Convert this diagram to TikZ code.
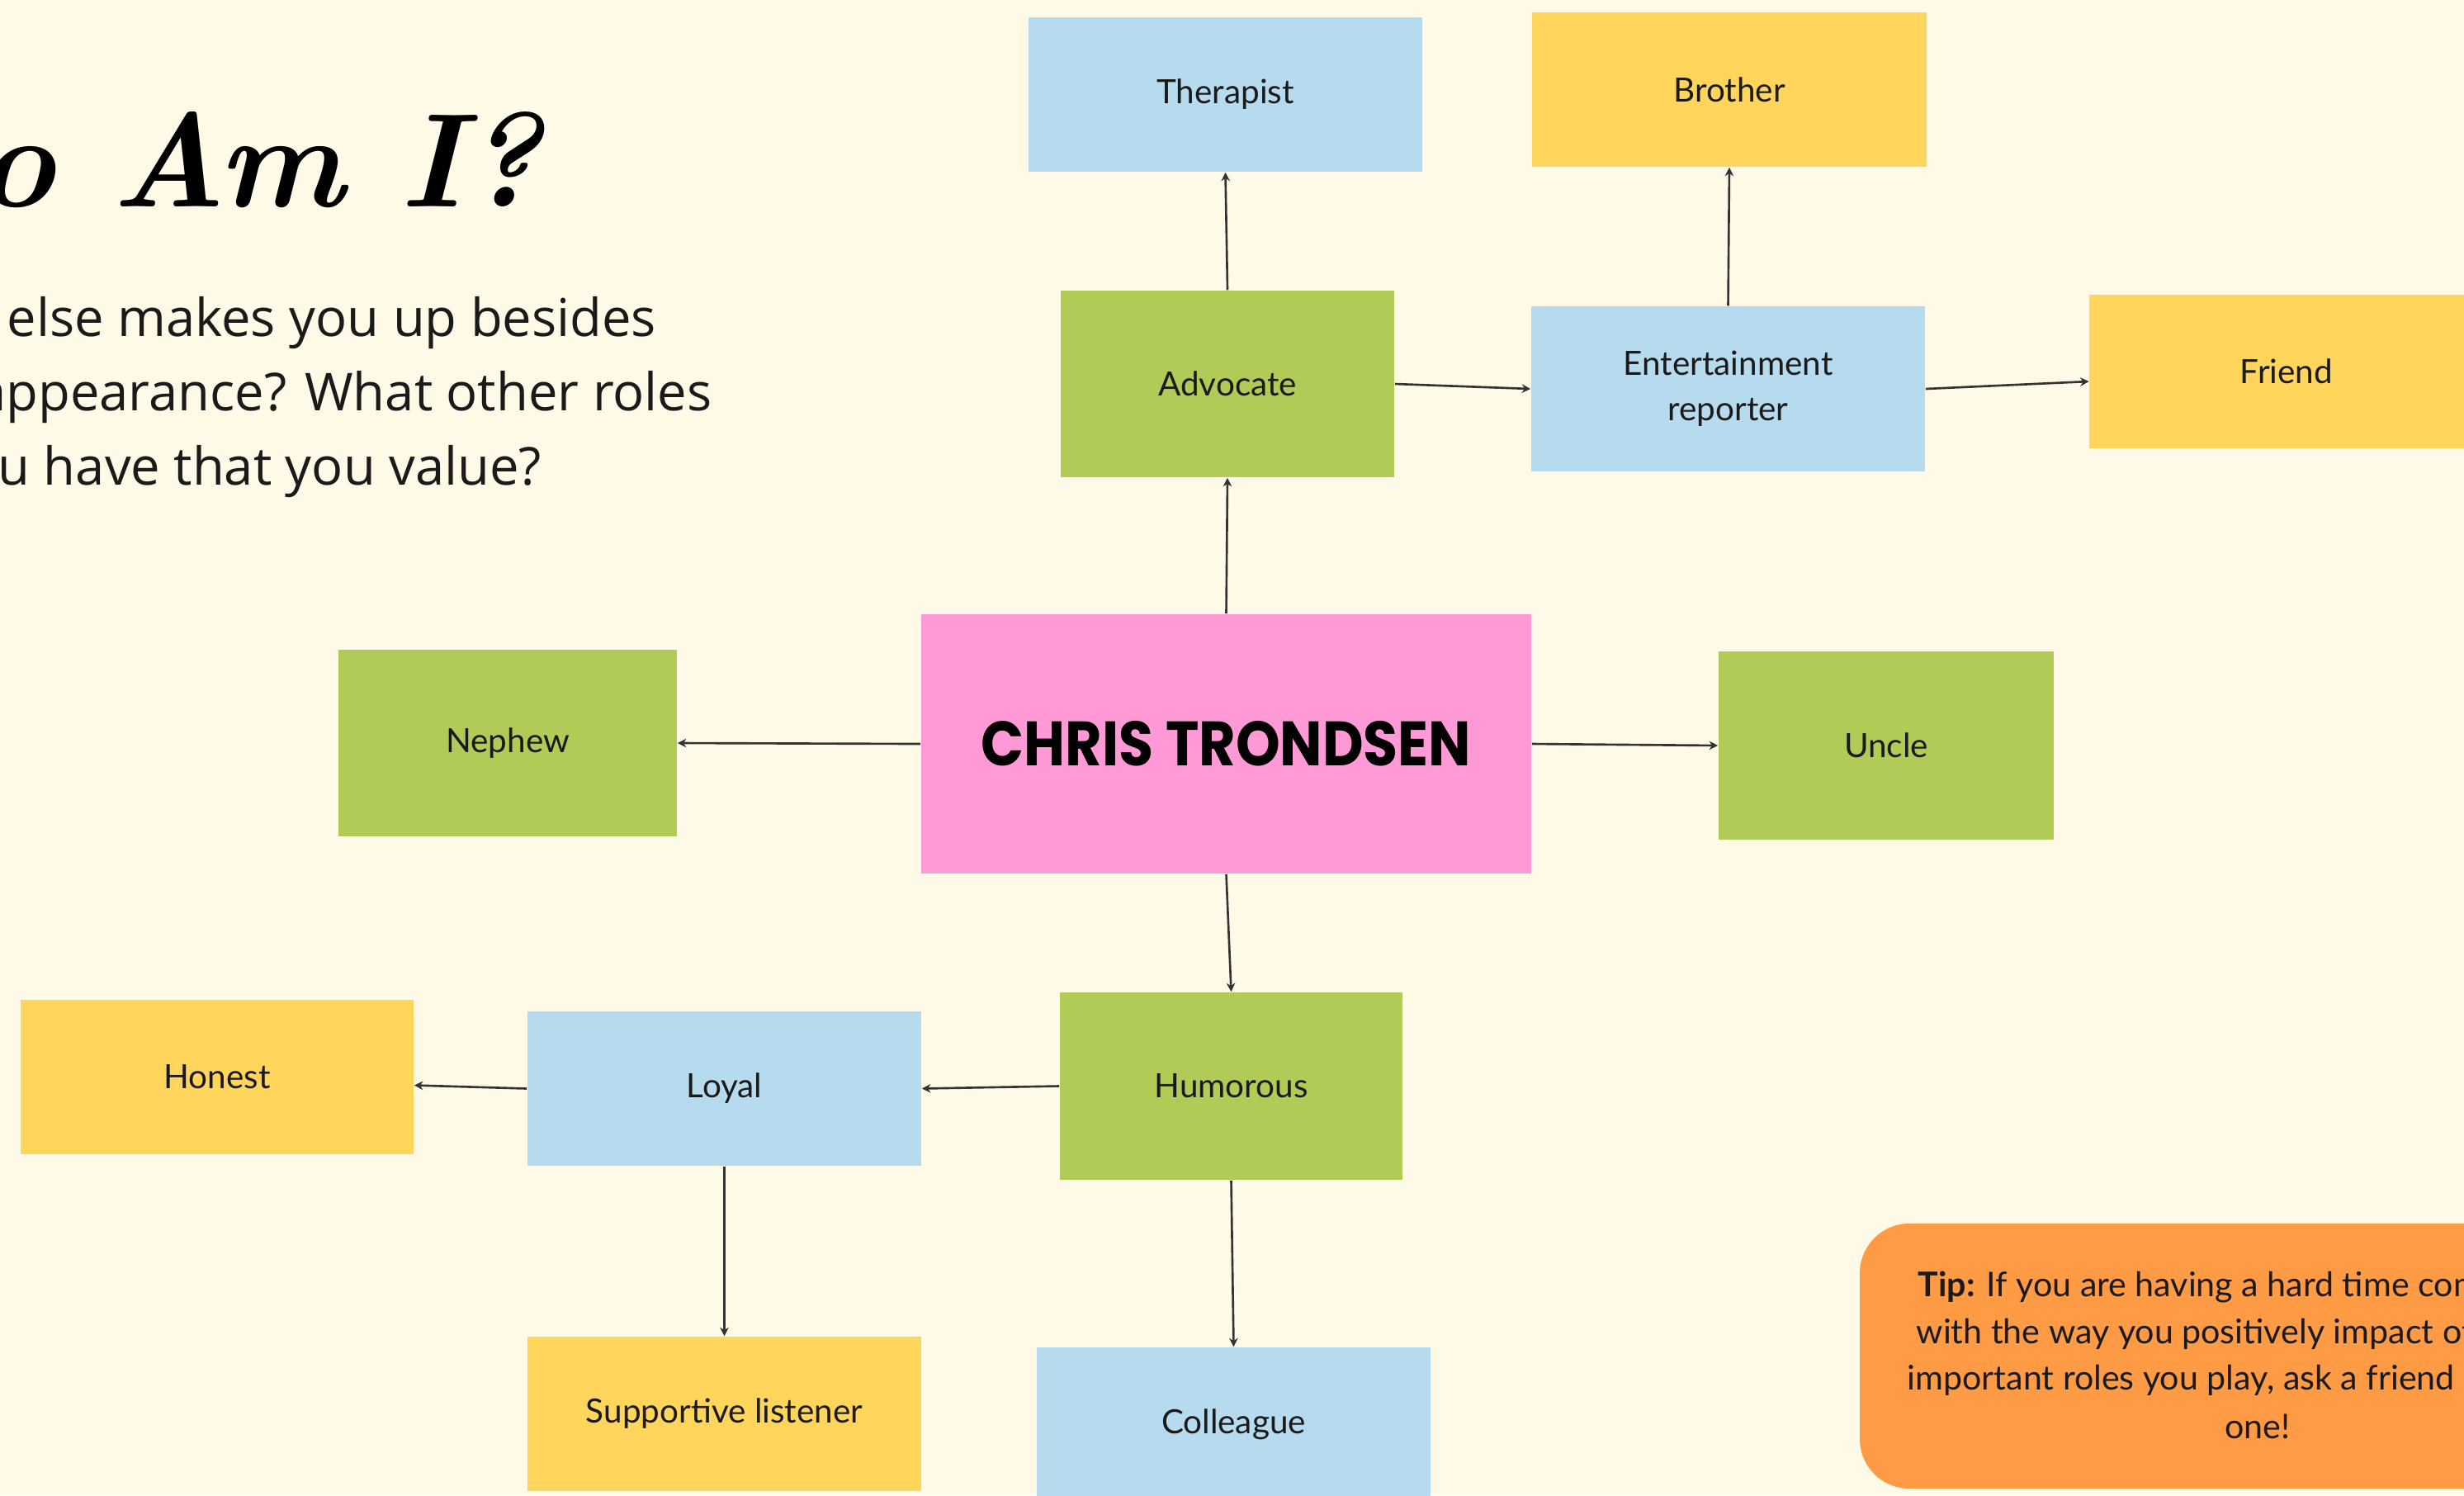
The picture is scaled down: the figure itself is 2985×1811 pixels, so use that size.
\documentclass[tikz,border=0pt]{standalone}
\usepackage{fontspec}
\setmainfont{Lato}
\newfontfamily\parafont{Open Sans}
\newfontfamily\chrisfont[FakeStretch=0.9]{Poppins}
\newfontfamily\titlefont{Latin Modern Roman}
\usetikzlibrary{arrows.meta}
\definecolor{bgc}{HTML}{FFF9E8}
\definecolor{grn}{HTML}{B1CC56}
\definecolor{blu}{HTML}{B6DBEE}
\definecolor{yel}{HTML}{FFD55B}
\definecolor{pnk}{HTML}{FF9AD6}
\definecolor{org}{HTML}{FF9A45}
\definecolor{txt}{HTML}{1A1A1A}
\definecolor{lnc}{HTML}{333333}
\begin{document}
\begin{tikzpicture}[x=0.01cm,y=-0.01cm,
  box/.style={rectangle, inner sep=0pt, align=center, text=txt,
    font=\fontsize{11.5}{15.6}\selectfont},
  greenbox/.style={box, fill=grn},
  bluebox/.style={box, fill=blu},
  yellowbox/.style={box, fill=yel},
  conn/.style={draw=lnc, line width=0.75pt, -{Stealth[length=3pt,width=3pt]}},
  para/.style={anchor=base west, inner sep=0pt, text=txt,
    font=\parafont\fontsize{18}{21}\selectfont},
  tiptext/.style={anchor=base west, inner sep=0pt, text=txt,
    font=\fontsize{11.7}{14}\selectfont}
  ]
\useasboundingbox (0,0) rectangle (2985,1811);
\clip (0,0) rectangle (2985,1811);
\fill[bgc] (0,0) rectangle (2985,1811);

% title and question
\node[anchor=base east, inner sep=0pt, text=black,
  font=\titlefont\bfseries\itshape\fontsize{46}{56}\selectfont] (title) at (657,250) {Who Am I?};
\node[para] (q1) at (8,407) {\llap{What }else makes you up besides};
\node[para] (q2) at (7,497) {\llap{your a}ppearance? What other roles};
\node[para] (q3) at (-3,587) {\llap{do yo}u have that you value?};

% boxes
\node[bluebox, minimum width=4.77cm, minimum height=1.87cm] (ther) at (1484.5,114.5) {Therapist};
\node[yellowbox, minimum width=4.78cm, minimum height=1.87cm] (bro) at (2095,108.5) {Brother};
\node[greenbox, minimum width=4.04cm, minimum height=2.26cm] (adv) at (1487,465) {Advocate};
\node[bluebox, minimum width=4.77cm, minimum height=2.00cm] (ent) at (2093.5,471) {Entertainment\\reporter};
\node[yellowbox, minimum width=4.77cm, minimum height=1.86cm] (fri) at (2770,450) {Friend};
\node[box, fill=pnk, minimum width=7.39cm, minimum height=3.14cm,
  font=\chrisfont\bfseries\fontsize{21.6}{26}\selectfont, text=black] (chris) at (1485.5,901) {CHRIS TRONDSEN};
\node[greenbox, minimum width=4.10cm, minimum height=2.26cm] (neph) at (615,900) {Nephew};
\node[greenbox, minimum width=4.06cm, minimum height=2.28cm] (unc) at (2285,903) {Uncle};
\node[greenbox, minimum width=4.15cm, minimum height=2.27cm] (hum) at (1491.5,1315.5) {Humorous};
\node[bluebox, minimum width=4.77cm, minimum height=1.87cm] (loy) at (877.5,1318.5) {Loyal};
\node[yellowbox, minimum width=4.76cm, minimum height=1.87cm] (hon) at (263,1304.5) {Honest};
\node[yellowbox, minimum width=4.77cm, minimum height=1.87cm] (sup) at (877.5,1712.5) {Supportive listener};
\node[bluebox, minimum width=4.77cm, minimum height=1.87cm] (col) at (1494.5,1725.5) {Colleague};

% connectors
\draw[conn] (adv.north) -- (ther.south);
\draw[conn] (ent.north) -- (bro.south);
\draw[conn] (adv.east) -- (ent.west);
\draw[conn] (ent.east) -- ([yshift=-0.12cm]fri.west);
\draw[conn] (chris.north) -- (adv.south);
\draw[conn] (chris.west) -- (neph.east);
\draw[conn] (chris.east) -- (unc.west);
\draw[conn] (chris.south) -- (hum.north);
\draw[conn] (hum.west) -- (loy.east);
\draw[conn] (loy.west) -- ([yshift=-0.1cm]hon.east);
\draw[conn] (loy.south) -- (sup.north);
\draw[conn] (hum.south) -- (col.north);

% tip
\fill[org, rounded corners=0.6cm] (2253,1482) rectangle (3213,1803);
\node[tiptext] (t1) at (2323,1570) {\textbf{Tip:} If you are having a hard time coming up};
\node[tiptext] (t2) at (2321,1627) {with the way you positively impact others or};
\node[tiptext] (t3) at (2310,1683) {important roles you play, ask a friend or loved};
\node[anchor=base, inner sep=0pt, text=txt, font=\fontsize{11.7}{14}\selectfont] (t4) at (2735,1742) {one!};
\end{tikzpicture}
\end{document}
